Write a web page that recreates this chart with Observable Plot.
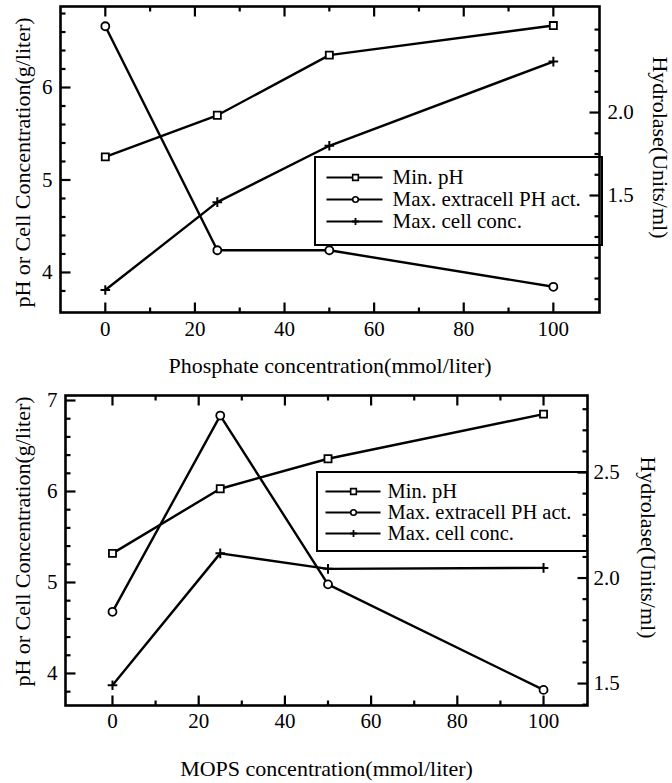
<!DOCTYPE html>
<html><head><meta charset="utf-8">
<script src="https://cdn.jsdelivr.net/npm/d3@7"></script>
<script src="https://cdn.jsdelivr.net/npm/@observablehq/plot@0.6"></script>
<style>
body{margin:0;background:#fff;}
#chart svg{display:block;}
</style></head><body><div id="chart"></div>
<script>
// ---- data ----
const conc = [0, 25, 50, 100];
const phosMinPH = [5.25, 5.70, 6.35, 6.67];
const phosHydrolase = [2.52, 1.17, 1.17, 0.95];
const phosCell = [3.81, 4.76, 5.37, 6.28];
const mopsMinPH = [5.32, 6.03, 6.36, 6.85];
const mopsHydrolase = [1.84, 2.77, 1.97, 1.47];
const mopsCell = [3.87, 5.32, 5.15, 5.16];
const seriesNames = ["Min. pH", "Max. extracell PH act.", "Max. cell conc."];
const xMajorTicks = [0, 20, 40, 60, 80, 100];
const xMinorTicks = [10, 30, 50, 70, 90];
const phosLeftMajor = [4, 5, 6];
const phosLeftMinor = [3.8, 4.2, 4.4, 4.6, 4.8, 5.2, 5.4, 5.6, 5.8, 6.2, 6.4, 6.6, 6.8];
const phosRightMajor = [1.5, 2.0];
const phosRightMinor = [0.875, 1.0, 1.125, 1.25, 1.375, 1.625, 1.75, 1.875, 2.125, 2.25, 2.375, 2.5];
const mopsLeftMajor = [4, 5, 6, 7];
const mopsLeftMinor = [3.8, 4.2, 4.4, 4.6, 4.8, 5.2, 5.4, 5.6, 5.8, 6.2, 6.4, 6.6, 6.8];
const mopsRightMajor = [1.5, 2.0, 2.5];
const mopsRightMinor = [1.4, 1.6, 1.7, 1.8, 1.9, 2.1, 2.2, 2.3, 2.4, 2.6, 2.7, 2.8];
const leftTitle = "pH or Cell Concentration(g/liter)";
const rightTitle = "Hydrolase(Units/ml)";
const phosTitle = "Phosphate concentration(mmol/liter)";
const mopsTitle = "MOPS concentration(mmol/liter)";

const FONT = "'Liberation Serif', 'Times New Roman', serif";

function panel(cfg) {
  const {height, mt, mb, ml, mr, xDom, yDom, rDom, minPH, hyd, cell, lg} = cfg;
  const width = 672;
  const r2y = h => yDom[0] + (h - rDom[0]) * (yDom[1] - yDom[0]) / (rDom[1] - rDom[0]);
  const y2r = v => rDom[0] + (v - yDom[0]) * (rDom[1] - rDom[0]) / (yDom[1] - yDom[0]);
  const pw = width - ml - mr, ph = height - mt - mb;
  const px2x = px => xDom[0] + (px - ml) / pw * (xDom[1] - xDom[0]);
  const py2y = py => yDom[1] - (py - mt) / ph * (yDom[1] - yDom[0]);
  const dxp = n => n / pw * (xDom[1] - xDom[0]);
  const dyp = n => n / ph * (yDom[1] - yDom[0]);
  const rows = conc.map((c, i) => ({c, ph: minPH[i], h: r2y(hyd[i]), cell: cell[i]}));
  const legRows = seriesNames.map((name, i) => ({name, y: py2y(lg.rowY[i])}));
  const ax = {fontSize: 21, label: null};
  const rMaj = cfg.rightMajor.map(r2y), rMin = cfg.rightMinor.map(r2y);
  const [xa, xb] = xDom, [ya, yb] = yDom;
  const seg = [];
  xMajorTicks.forEach(v => { seg.push({a: v, b: v, c: ya, d: ya + dyp(10)}); seg.push({a: v, b: v, c: yb, d: yb - dyp(10)}); });
  xMinorTicks.forEach(v => { seg.push({a: v, b: v, c: ya, d: ya + dyp(5)}); seg.push({a: v, b: v, c: yb, d: yb - dyp(5)}); });
  cfg.leftMajor.forEach(v => seg.push({a: xa, b: xa + dxp(10), c: v, d: v}));
  cfg.leftMinor.forEach(v => seg.push({a: xa, b: xa + dxp(5), c: v, d: v}));
  rMaj.forEach(v => seg.push({a: xb, b: xb - dxp(10), c: v, d: v}));
  rMin.forEach(v => seg.push({a: xb, b: xb - dxp(5), c: v, d: v}));
  return Plot.plot({
    width, height, marginTop: mt, marginBottom: mb, marginLeft: ml, marginRight: mr,
    x: {domain: xDom}, y: {domain: yDom},
    style: {fontFamily: FONT, fontSize: "21px", color: "black", overflow: "visible"},
    marks: [
      // axis labels
      Plot.axisX(xMajorTicks, {anchor: "bottom", tickSize: 0, tickPadding: cfg.xPad, ...ax}),
      Plot.axisY(cfg.leftMajor, {anchor: "left", tickSize: 0, tickPadding: 8, tickFormat: d3.format("d"), ...ax}),
      Plot.axisY(rMaj, {anchor: "right", tickSize: 0, tickPadding: cfg.rPad, tickFormat: d => d3.format(".1f")(y2r(d)), ...ax}),
      // titles
      Plot.text([cfg.xTitle], {frameAnchor: "bottom", dy: cfg.xTitleDy, text: d => d, fontSize: 22, textAnchor: "middle", lineAnchor: "middle"}),
      Plot.text([leftTitle], {frameAnchor: "left", dx: cfg.lTitleDx, dy: cfg.lTitleDy, rotate: -90, text: d => d, fontSize: 22, textAnchor: "middle", lineAnchor: "middle"}),
      Plot.text([rightTitle], {frameAnchor: "right", dx: cfg.rTitleDx, dy: cfg.rTitleDy, rotate: 90, text: d => d, fontSize: 22, textAnchor: "middle", lineAnchor: "middle"}),
      // data
      Plot.line(rows, {x: "c", y: "ph", stroke: "black", strokeWidth: 2.4}),
      Plot.line(rows, {x: "c", y: "h", stroke: "black", strokeWidth: 2.4}),
      Plot.line(rows, {x: "c", y: "cell", stroke: "black", strokeWidth: 2.4}),
      Plot.dot(rows, {x: "c", y: "ph", symbol: "square", r: 4, fill: "white", stroke: "black", strokeWidth: 1.8}),
      Plot.dot(rows, {x: "c", y: "h", symbol: "circle", r: 4, fill: "white", stroke: "black", strokeWidth: 1.8}),
      Plot.dot(rows, {x: "c", y: "cell", symbol: "plus", r: 3.2, stroke: "black", strokeWidth: 2}),
      // legend
      Plot.rect([0], {x1: () => px2x(lg.x1), x2: () => px2x(lg.x2), y1: () => py2y(lg.y1), y2: () => py2y(lg.y2), fill: "white", stroke: "black", strokeWidth: 2}),
      Plot.link(legRows, {x1: () => px2x(lg.lineX1), x2: () => px2x(lg.lineX2), y1: "y", y2: "y", stroke: "black", strokeWidth: 2}),
      Plot.dot([legRows[0]], {x: () => px2x(lg.symX), y: "y", symbol: "square", r: 3.2, fill: "white", stroke: "black", strokeWidth: 1.6}),
      Plot.dot([legRows[1]], {x: () => px2x(lg.symX), y: "y", symbol: "circle", r: 2.8, fill: "white", stroke: "black", strokeWidth: 1.6}),
      Plot.dot([legRows[2]], {x: () => px2x(lg.symX), y: "y", symbol: "plus", r: 2.4, stroke: "black", strokeWidth: 1.8}),
      Plot.text(legRows, {x: () => px2x(lg.textX), y: "y", text: "name", textAnchor: "start", fontSize: lg.fs, lineAnchor: "middle"}),
      Plot.frame({stroke: "black", strokeWidth: 2.6}),
      // inward tick marks, drawn last so nothing covers them
      Plot.link(seg, {x1: "a", x2: "b", y1: "c", y2: "d", stroke: "black", strokeWidth: 2.2})
    ]
  });
}

const topPanel = panel({
  height: 385, mt: 6, mb: 73, ml: 60, mr: 73,
  xDom: [-10, 110.3], yDom: [3.567, 6.876], rDom: [0.795, 2.639],
  minPH: phosMinPH, hyd: phosHydrolase, cell: phosCell,
  leftMajor: phosLeftMajor, leftMinor: phosLeftMinor, rightMajor: phosRightMajor, rightMinor: phosRightMinor,
  xPad: 9, rPad: 8, xTitle: phosTitle, xTitleDy: 53,
  lTitleDx: -38, lTitleDy: 3, rTitleDx: 61, rTitleDy: -12,
  lg: {x1: 315, x2: 602, y1: 157, y2: 245, rowY: [177, 199, 221], lineX1: 326, lineX2: 382, symX: 355, textX: 392, fs: 21}
});
const bottomPanel = panel({
  height: 398, mt: 10, mb: 78, ml: 65, mr: 85,
  xDom: [-10.9, 110.2], yDom: [3.648, 7.055], rDom: [1.396, 2.865],
  minPH: mopsMinPH, hyd: mopsHydrolase, cell: mopsCell,
  leftMajor: mopsLeftMajor, leftMinor: mopsLeftMinor, rightMajor: mopsRightMajor, rightMinor: mopsRightMinor,
  xPad: 8, rPad: 6, xTitle: mopsTitle, xTitleDy: 63,
  lTitleDx: -43, lTitleDy: -9, rTitleDx: 61, rTitleDy: -3,
  lg: {x1: 317, x2: 587, y1: 87, y2: 166, rowY: [106, 127, 148], lineX1: 325, lineX2: 380, symX: 353, textX: 387, fs: 20.5}
});
const el = document.getElementById("chart");
el.appendChild(topPanel);
el.appendChild(bottomPanel);
</script></body></html>
